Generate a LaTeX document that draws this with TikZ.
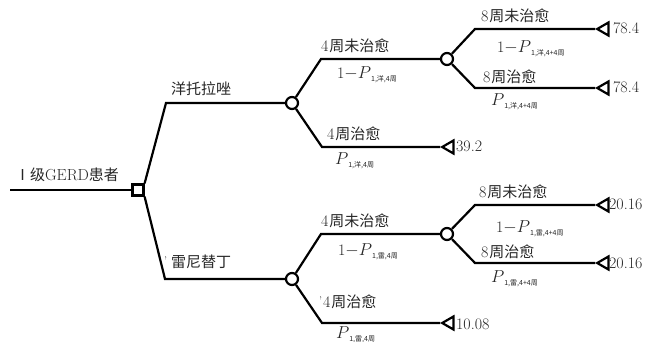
\documentclass[tikz,border=0pt]{standalone}
\usepackage{fontspec}
\usetikzlibrary{shapes.geometric}
\newfontfamily\cjk{Noto Sans CJK SC}
\newcommand\lbl[1]{{\fontsize{15}{16}\selectfont\cjk #1}}
\newcommand\num[1]{{\fontsize{16}{17}\selectfont #1}}
\newcommand\tick{{\fontsize{11}{11}\selectfont\raisebox{3pt}{'}}}
\newcommand\prob[2]{{\fontsize{16}{17}\selectfont #1$P$\raisebox{-3pt}{\fontsize{7}{7}\selectfont\cjk #2}}}
\begin{document}
\begin{tikzpicture}[x=1pt,y=-1pt,line width=2.2pt,
  chance/.style={circle,draw,line width=2.2pt,fill=white,minimum size=12pt,inner sep=0pt},
  decision/.style={rectangle,draw,line width=2.2pt,fill=white,minimum size=11pt,inner sep=0pt},
  term/.style={regular polygon,regular polygon sides=3,rotate=90,draw,line width=2.2pt,minimum size=15pt,inner sep=0pt,anchor=corner 1},
  txt/.style={anchor=base west,inner sep=0pt,text=black!85}]
\useasboundingbox (0,0) rectangle (646,342);
% nodes
\coordinate (start) at (10,190);
\node[decision] (sq) at (138,190) {};
\node[chance] (c1) at (292,103) {};
\node[chance] (c2) at (292,279) {};
\node[chance] (c3) at (447,59) {};
\node[chance] (c4) at (447,234) {};
\coordinate (k1) at (166,103);
\coordinate (k2) at (165,279);
\coordinate (k3) at (321,59);
\coordinate (k4) at (322,147);
\coordinate (k5) at (321,234);
\coordinate (k6) at (322,323);
\coordinate (k7) at (475,29);
\coordinate (k8) at (475,88);
\coordinate (k9) at (475,205);
\coordinate (k10) at (475,263);
\node[term] (t1) at (595,29) {};
\node[term] (t2) at (595,88) {};
\node[term] (t3) at (440,147) {};
\node[term] (t4) at (595,205) {};
\node[term] (t5) at (595,263) {};
\node[term] (t6) at (440,323) {};
% connectors
\draw (start) -- (sq.west);
\draw (sq.north east) -- (k1) -- (c1);
\draw (sq.south east) -- (k2) -- (c2);
\draw (c1) -- (k3) -- (c3);
\draw (c1) -- (k4) -- (t3.corner 1);
\draw (c2) -- (k5) -- (c4);
\draw (c2) -- (k6) -- (t6.corner 1);
\draw (c3) -- (k7) -- (t1.corner 1);
\draw (c3) -- (k8) -- (t2.corner 1);
\draw (c4) -- (k9) -- (t4.corner 1);
\draw (c4) -- (k10) -- (t5.corner 1);
% texts
\node[txt] (l0) at (14,181) {\lbl{Ⅰ级}\num{GERD}\lbl{患者}};
\node[txt] (l1) at (170,95) {\lbl{洋托拉唑}};
\node[txt] (l2) at (163,268) {\tick\hspace{4pt}\lbl{雷尼替丁}};
\node[txt] (l3) at (320,52) {\num{4}\hspace{1pt}\lbl{周未治愈}};
\node[txt] (l4) at (336,79) {\prob{1$-$}{1,洋,4周}};
\node[txt] (l5) at (326,140) {\num{4}\hspace{1pt}\lbl{周治愈}};
\node[txt] (l6) at (334,165) {\prob{}{1,洋,4周}};
\node[txt] (v3) at (455,152) {\num{39.2}};
\node[txt] (l7) at (480,22) {\num{8}\hspace{1pt}\lbl{周未治愈}};
\node[txt] (l8) at (496,53) {\prob{1$-$}{1,洋,4+4周}};
\node[txt] (l9) at (482,83) {\num{8}\hspace{1pt}\lbl{周治愈}};
\node[txt] (l10) at (490,106) {\prob{}{1,洋,4+4周}};
\node[txt] (v1) at (612,34) {\num{78.4}};
\node[txt] (v2) at (612,93) {\num{78.4}};
\node[txt] (l11) at (320,227) {\num{4}\hspace{1pt}\lbl{周未治愈}};
\node[txt] (l12) at (337,255) {\prob{1$-$}{1,雷,4周}};
\node[txt] (l13) at (318,307) {\tick\hspace{1pt}\num{4}\hspace{1pt}\lbl{周治愈}};
\node[txt] (l14) at (335,338) {\prob{}{1,雷,4周}};
\node[txt] (v6) at (455,329) {\num{10.08}};
\node[txt] (l15) at (478,198) {\num{8}\hspace{1pt}\lbl{周未治愈}};
\node[txt] (l16) at (495,233) {\prob{1$-$}{1,雷,4+4周}};
\node[txt] (l17) at (480,258) {\num{8}\hspace{1pt}\lbl{周治愈}};
\node[txt] (l18) at (490,283) {\prob{}{1,雷,4+4周}};
\node[txt] (v4) at (608,210) {\num{20.16}};
\node[txt] (v5) at (608,269) {\num{20.16}};
\end{tikzpicture}
\end{document}
